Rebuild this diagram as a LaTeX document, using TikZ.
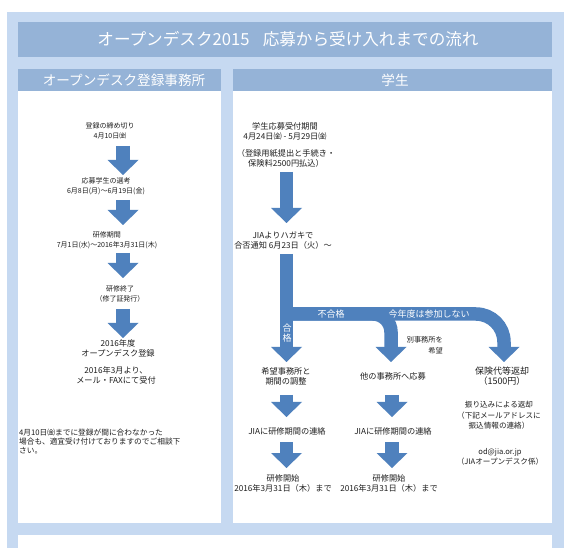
\documentclass[tikz,border=0pt]{standalone}
\usepackage{fontspec}
\setmainfont{Noto Sans CJK JP}
\usetikzlibrary{arrows.meta}

\definecolor{framebg}{RGB}{198,217,241}
\definecolor{headbg}{RGB}{149,179,215}
\definecolor{flowblue}{RGB}{79,129,189}
\definecolor{bodytxt}{RGB}{30,30,30}

\begin{document}
\begin{tikzpicture}[x=1pt,y=-1pt,
  every node/.style={inner sep=0pt,align=center,text=bodytxt},
  big/.style={font=\fontsize{8.2}{10}\selectfont},
  small/.style={font=\fontsize{7}{10}\selectfont},
  tiny/.style={font=\fontsize{7.2}{11}\selectfont},
  band/.style={font=\fontsize{9}{10}\selectfont,text=white},
  head/.style={text=white},
  barrow/.style={draw=flowblue,line width=13.5pt,
    -{Triangle[width=31pt,length=15pt,line width=0pt]}}]
  \useasboundingbox (0,0) rectangle (579,548);
  % frame
  \fill[white] (0,0) rectangle (579,548);
  \fill[framebg] (7,12) rectangle (564,548);
  \fill[headbg] (18,22) rectangle (552,57);
  \fill[headbg] (18,69) rectangle (221,91);
  \fill[headbg] (233,69) rectangle (552,91);
  \fill[white] (18,91) rectangle (221,523);
  \fill[white] (233,91) rectangle (552,523);
  \fill[white] (18,535) rectangle (552,548);
  \path (288,39.5) node[head,font=\fontsize{16.6}{18}\selectfont] (title) {オープンデスク2015\hspace{0.8em}応募から受け入れまでの流れ}
  (124,80) node[head,font=\fontsize{13.6}{15}\selectfont] (hdleft) {オープンデスク登録事務所}
  (395,80) node[head,font=\fontsize{13.6}{15}\selectfont] (hdright) {学生};

  % left column
  \path (110,131) node[small] (deadline) {登録の締め切り\\4月10日㈮}
  (106,186.5) node[small] (select) {応募学生の選考\\6月8日(月)～6月19日(金)}
  (107,240.5) node[small] (period) {研修期間\\7月1日(水)～2016年3月31日(木)}
  (120,293.5) node[small] (finish) {研修終了\\（修了証発行）}
  (118,348.5) node[big] (nextreg) {2016年度\\オープンデスク登録}
  (116,375) node[big] (nextacc) {2016年3月より、\\メール・FAXにて受付}
  (19,441) node[anchor=west,align=left,font=\fontsize{7.7}{9}\selectfont] (note)
    {4月10日㈮までに登録が間に合わなかった\\場合も、適宜受け付けておりますのでご相談下\\さい。};
  \path (123,146) coordinate (l1t) (123,175) coordinate (l1b)
  (123,200) coordinate (l2t) (123,225) coordinate (l2b)
  (123,253) coordinate (l3t) (123,278) coordinate (l3b)
  (123,309) coordinate (l4t) (123,338) coordinate (l4b);
  \draw[barrow] (l1t) -- (l1b);
  \draw[barrow] (l2t) -- (l2b);
  \draw[barrow] (l3t) -- (l3b);
  \draw[barrow] (l4t) -- (l4b);

  % right column
  \path (285,131) node[big] (apply) {学生応募受付期間\\4月24日㈮ - 5月29日㈮}
  (286,158) node[big] (papers) {（登録用紙提出と手続き・\\保険料2500円払込）}
  (283,241) node[big] (notice) {JIAよりハガキで\\合否通知 6月23日（火）～}
  (286,376) node[big] (adjust) {希望事務所と\\期間の調整}
  (393,376) node[big] (otherapp) {他の事務所へ応募}
  (502,376) node[font=\fontsize{9}{10}\selectfont] (refund) {保険代等返却\\（1500円）}
  (287,431) node[big] (report1) {JIAに研修期間の連絡}
  (393,431) node[big] (report2) {JIAに研修期間の連絡}
  (283,483) node[big] (start1) {研修開始\\2016年3月31日（木）まで}
  (389,483) node[big] (start2) {研修開始\\2016年3月31日（木）まで}
  (499,415.5) node[font=\fontsize{7.6}{10.5}\selectfont] (bank) {振り込みによる返却\\（下記メールアドレスに\\振込情報の連絡）}
  (500,457) node[font=\fontsize{7.6}{10}\selectfont] (contact) {od@jia.or.jp\\（JIAオープンデスク係）};
  \path (286.5,172) coordinate (r1t) (286.5,223) coordinate (r1b)
  (286.5,254) coordinate (r2t) (286.5,362) coordinate (r2b)
  (286.5,314) coordinate (fork)
  (391,314) coordinate (m1) (391,362) coordinate (m2)
  (504,314) coordinate (s1) (504,362) coordinate (s2)
  (286.5,395) coordinate (a1t) (286.5,417) coordinate (a1b)
  (392,395) coordinate (b1t) (392,417) coordinate (b1b)
  (286.5,442) coordinate (a2t) (286.5,468) coordinate (a2b)
  (392,442) coordinate (b2t) (392,468) coordinate (b2b);
  \draw[barrow] (r1t) -- (r1b);
  \draw[barrow,rounded corners=28pt] (fork) -- (s1) -- (s2);
  \draw[barrow,rounded corners=18pt] (fork) -- (m1) -- (m2);
  \draw[barrow] (r2t) -- (r2b);
  \draw[barrow] (a1t) -- (a1b);
  \draw[barrow] (b1t) -- (b1b);
  \draw[barrow] (a2t) -- (a2b);
  \draw[barrow] (b2t) -- (b2b);
  \path (331,314) node[band] (faillbl) {不合格}
  (429,314) node[band] (skiplbl) {今年度は参加しない}
  (287,333) node[band] (passlbl) {合\\格}
  (443,345.5) node[tiny,anchor=east,align=right] (otherlbl) {別事務所を\\希望};
\end{tikzpicture}
\end{document}
